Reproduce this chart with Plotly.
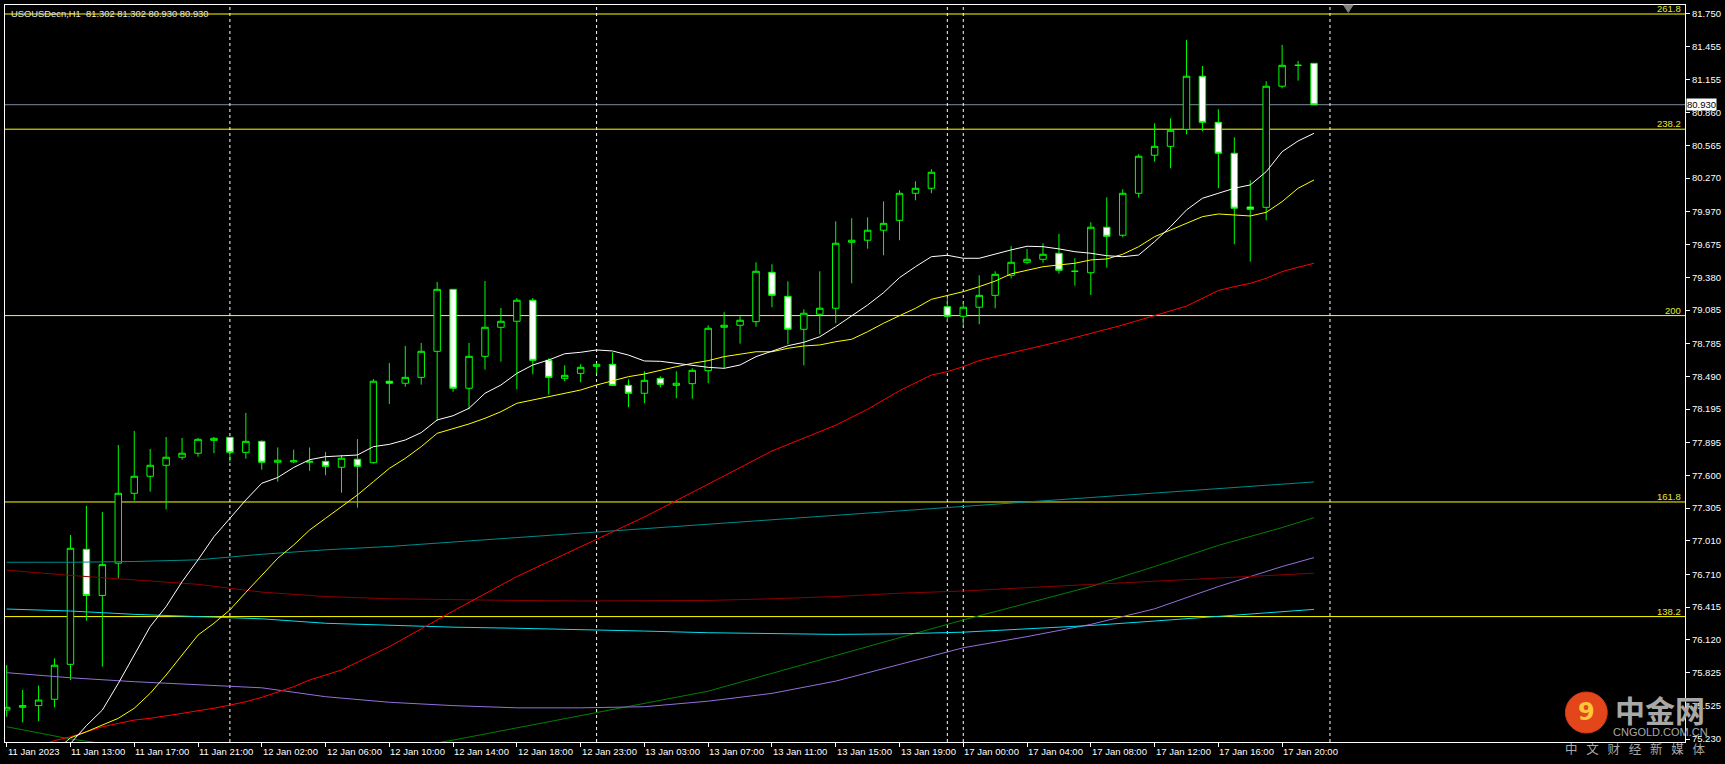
import plotly.graph_objects as go

# ---------------- data ----------------
opens = [75.49, 75.515, 75.53, 75.587, 75.901, 76.935, 76.52, 76.81, 77.438, 77.591,
         77.69, 77.762, 77.798, 77.914, 77.941, 77.806, 77.905, 77.717, 77.72, 77.717,
         77.725, 77.672, 77.744, 77.713, 78.445, 78.427, 78.48, 78.714, 79.271, 78.382,
         78.669, 78.93, 78.984, 79.173, 78.633, 78.471, 78.516, 78.579, 78.597, 78.408,
         78.337, 78.471, 78.408, 78.423, 78.54, 78.93, 78.948, 78.98, 79.424, 79.208,
         78.912, 79.047, 79.101, 79.694, 79.712, 79.802, 79.891, 80.134, 80.179, 79.115,
         79.029, 79.11, 79.217, 79.397, 79.514, 79.541, 79.595, 79.433, 79.42, 79.829,
         79.757, 80.134, 80.476, 80.556, 80.709, 81.186, 80.772, 80.494, 80.011, 80.008,
         81.096, 81.284, 81.302]
highs = [75.895, 75.67, 75.71, 75.955, 77.063, 77.325, 77.27, 77.872, 77.998, 77.836,
         77.944, 77.935, 77.935, 77.944, 77.941, 78.16, 77.914, 77.85, 77.83, 77.85,
         77.81, 77.782, 77.926, 78.465, 78.609, 78.762, 78.789, 79.337, 79.271, 78.789,
         79.346, 79.103, 79.193, 79.193, 78.651, 78.588, 78.597, 78.606, 78.705, 78.462,
         78.534, 78.489, 78.534, 78.561, 78.948, 79.065, 79.029, 79.514, 79.496, 79.343,
         79.092, 79.433, 79.882, 79.91, 79.918, 80.062, 80.161, 80.242, 80.35, 79.2,
         79.155, 79.397, 79.433, 79.66, 79.634, 79.685, 79.769, 79.55, 79.874, 80.098,
         80.17, 80.485, 80.763, 80.808, 81.512, 81.278, 80.889, 80.637, 80.251, 81.141,
         81.467, 81.323, 81.302]
lows = [75.43, 75.38, 75.39, 75.515, 75.76, 76.293, 75.88, 76.674, 77.372, 77.453,
        77.294, 77.74, 77.767, 77.798, 77.722, 77.749, 77.65, 77.542, 77.71, 77.64,
        77.6, 77.443, 77.309, 77.704, 78.24, 78.396, 78.414, 78.09, 78.35, 78.193,
        78.549, 78.621, 78.373, 78.508, 78.324, 78.445, 78.436, 78.516, 78.408, 78.211,
        78.247, 78.39, 78.292, 78.288, 78.427, 78.564, 78.783, 78.935, 79.11, 78.777,
        78.588, 78.867, 78.966, 79.325, 79.636, 79.577, 79.712, 80.071, 80.134, 78.977,
        78.944, 78.957, 79.1, 79.37, 79.496, 79.51, 79.412, 79.304, 79.22, 79.466,
        79.739, 80.095, 80.418, 80.359, 80.664, 80.691, 80.179, 79.676, 79.52, 79.891,
        81.078, 81.146, 80.93]
closes = [75.515, 75.53, 75.58, 75.893, 76.944, 76.52, 76.797, 77.438, 77.591, 77.69,
          77.762, 77.798, 77.923, 77.932, 77.806, 77.905, 77.717, 77.735, 77.73, 77.725,
          77.68, 77.753, 77.681, 78.445, 78.427, 78.48, 78.714, 79.271, 78.382, 78.669,
          78.93, 78.984, 79.173, 78.633, 78.48, 78.498, 78.57, 78.597, 78.408, 78.337,
          78.453, 78.417, 78.427, 78.543, 78.921, 78.948, 78.993, 79.433, 79.217, 78.912,
          79.056, 79.101, 79.685, 79.712, 79.802, 79.864, 80.134, 80.179, 80.323, 79.029,
          79.11, 79.217, 79.406, 79.514, 79.541, 79.586, 79.442, 79.433, 79.829, 79.748,
          80.134, 80.467, 80.556, 80.7, 81.186, 80.772, 80.494, 80.0, 79.99, 81.096,
          81.284, 81.284, 80.93]

# fast moving averages, one value per bar starting at *_start
white_start = 3
white_ma = [74.95, 75.19, 75.35, 75.49, 75.73, 75.985, 76.24, 76.42, 76.643, 76.84,
            77.048, 77.213, 77.378, 77.528, 77.58, 77.67, 77.74, 77.767, 77.775, 77.782,
            77.857, 77.878, 77.917, 77.983, 78.097, 78.135, 78.202, 78.337, 78.411, 78.516,
            78.591, 78.636, 78.692, 78.705, 78.726, 78.717, 78.68, 78.627, 78.624, 78.606,
            78.582, 78.57, 78.561, 78.591, 78.666, 78.717, 78.764, 78.795, 78.845, 78.935,
            79.034, 79.13, 79.241, 79.376, 79.474, 79.564, 79.577, 79.55, 79.55, 79.589,
            79.625, 79.658, 79.654, 79.634, 79.609, 79.595, 79.573, 79.564, 79.579, 79.699,
            79.834, 79.984, 80.089, 80.134, 80.179, 80.209, 80.328, 80.508, 80.604, 80.673]
yellow_start = 3
yellow_ma = [75.12, 75.24, 75.295, 75.356, 75.416, 75.506, 75.64, 75.805, 75.985, 76.164,
             76.27, 76.39, 76.548, 76.704, 76.854, 76.973, 77.108, 77.213, 77.318, 77.423,
             77.542, 77.662, 77.752, 77.857, 77.977, 78.016, 78.061, 78.112, 78.171, 78.247,
             78.276, 78.306, 78.337, 78.366, 78.411, 78.45, 78.486, 78.51, 78.546, 78.576,
             78.606, 78.63, 78.666, 78.69, 78.71, 78.71, 78.741, 78.762, 78.771, 78.8,
             78.822, 78.89, 78.966, 79.034, 79.1, 79.181, 79.214, 79.25, 79.295, 79.345,
             79.41, 79.445, 79.474, 79.49, 79.505, 79.535, 79.544, 79.586, 79.654, 79.744,
             79.804, 79.858, 79.924, 79.948, 79.939, 79.93, 79.963, 80.059, 80.179, 80.254]

# slower moving averages, sampled at these bars
red_bars = [2, 3, 4, 5, 6, 7, 8, 9, 10, 11, 12, 13, 14, 15, 16, 17, 18, 19, 20, 21,
            24, 28, 32, 36, 40, 44, 48, 52, 54, 56, 58, 59, 60, 61, 62, 66, 70, 74,
            76, 77, 78, 79, 80, 81, 82]
red_ma = [75.17, 75.215, 75.25, 75.295, 75.34, 75.37, 75.4, 75.416, 75.436, 75.46,
          75.484, 75.506, 75.535, 75.565, 75.604, 75.655, 75.7, 75.76, 75.805, 75.85,
          76.06, 76.38, 76.69, 76.96, 77.225, 77.52, 77.818, 78.05, 78.193, 78.36,
          78.501, 78.531, 78.576, 78.63, 78.666, 78.8, 78.95, 79.12, 79.26, 79.295,
          79.325, 79.37, 79.43, 79.469, 79.505]

slow_bars = [0, 4, 8, 12, 16, 20, 24, 28, 32, 36, 40, 44, 48, 52, 56, 60, 64, 68, 72, 76, 80, 82]
teal_ma = [76.818, 76.818, 76.825, 76.84, 76.89, 76.93, 76.96, 77.0, 77.04, 77.08, 77.12,
           77.16, 77.2, 77.24, 77.28, 77.32, 77.36, 77.4, 77.44, 77.48, 77.52, 77.54]
maroon_ma = [76.747, 76.70, 76.66, 76.62, 76.55, 76.51, 76.49, 76.48, 76.475, 76.47, 76.47,
             76.475, 76.49, 76.51, 76.54, 76.56, 76.59, 76.62, 76.65, 76.68, 76.71, 76.72]
cyan_ma = [76.398, 76.38, 76.35, 76.33, 76.31, 76.27, 76.25, 76.235, 76.225, 76.215, 76.2,
           76.185, 76.175, 76.17, 76.175, 76.19, 76.22, 76.25, 76.29, 76.33, 76.375, 76.395]
purple_ma = [75.826, 75.78, 75.745, 75.72, 75.69, 75.61, 75.56, 75.53, 75.51, 75.51, 75.52,
             75.57, 75.64, 75.75, 75.9, 76.05, 76.15, 76.26, 76.4, 76.6, 76.78, 76.86]
green_ma = [75.34, 75.23, 75.15, 75.08, 75.04, 75.04, 75.12, 75.22, 75.33, 75.44, 75.55,
            75.66, 75.82, 75.98, 76.14, 76.3, 76.45, 76.6, 76.78, 76.97, 77.13, 77.22]

fib_names = ["261.8", "238.2", "200", "161.8", "138.2"]
fib_prices = [81.745, 80.71, 79.035, 77.36, 76.33]
last_price = 80.930
separator_bars = [14, 37, 59, 60, 83]

tick_bars = list(range(0, 81, 4))
tick_labels = ["11 Jan 2023", "11 Jan 13:00", "11 Jan 17:00", "11 Jan 21:00", "12 Jan 02:00",
               "12 Jan 06:00", "12 Jan 10:00", "12 Jan 14:00", "12 Jan 18:00", "12 Jan 23:00",
               "13 Jan 03:00", "13 Jan 07:00", "13 Jan 11:00", "13 Jan 15:00", "13 Jan 19:00",
               "17 Jan 00:00", "17 Jan 04:00", "17 Jan 08:00", "17 Jan 12:00", "17 Jan 16:00",
               "17 Jan 20:00"]
price_ticks = [81.750, 81.455, 81.155, 80.860, 80.565, 80.270, 79.970, 79.675, 79.380, 79.085,
               78.785, 78.490, 78.195, 77.895, 77.600, 77.305, 77.010, 76.710, 76.415, 76.120,
               75.825, 75.525, 75.230]
price_tick_text = ["%.3f" % v for v in price_ticks]
title_text = "USOUSDecn,H1  81.302 81.302 80.930 80.930"

# ---------------- figure ----------------
FONT = "Liberation Sans"
FS = 9.5
bars = list(range(len(opens)))
fig = go.Figure()


def add_line(xs, ys, color):
    fig.add_trace(go.Scatter(x=xs, y=ys, mode="lines", line=dict(color=color, width=1),
                             hoverinfo="skip", showlegend=False))


add_line(slow_bars, green_ma, "#008000")
add_line(slow_bars, purple_ma, "#9370DB")
add_line(slow_bars, cyan_ma, "#00E0F0")
add_line(slow_bars, maroon_ma, "#8B0000")
add_line(slow_bars, teal_ma, "#008B8B")
add_line(red_bars, red_ma, "#FF0000")
add_line(list(range(yellow_start, yellow_start + len(yellow_ma))), yellow_ma, "#FFFF00")
add_line(list(range(white_start, white_start + len(white_ma))), white_ma, "#FFFFFF")

fig.add_trace(go.Candlestick(
    x=bars, open=opens, high=highs, low=lows, close=closes,
    increasing=dict(line=dict(color="#00FF00", width=1), fillcolor="#000000"),
    decreasing=dict(line=dict(color="#00FF00", width=1), fillcolor="#FFFFFF"),
    whiskerwidth=0, showlegend=False, hoverinfo="skip"))

shapes = []
for p in fib_prices:
    shapes.append(dict(type="line", xref="paper", x0=0, x1=1, yref="y", y0=p, y1=p,
                       line=dict(color="#FFFF00", width=1), layer="below"))
shapes.append(dict(type="line", xref="paper", x0=0, x1=1, yref="y", y0=last_price, y1=last_price,
                   line=dict(color="#7A8CA0", width=1), layer="below"))
for b in separator_bars:
    shapes.append(dict(type="line", xref="x", x0=b, x1=b, yref="paper", y0=0, y1=1,
                       line=dict(color="#FFFFFF", width=1, dash="3px,3px"), layer="below"))
# chart-shift marker
shapes.append(dict(type="path", xref="x", yref="paper",
                   path="M 83.85 1 L 84.45 1 L 84.15 0.99 Z",
                   fillcolor="#808080", line=dict(color="#808080", width=1)))

X0 = 4.0
PW = 1686.0
PB = 742.0
PH = 737.0


def px(xp):
    return (xp - X0) / PW


def py(yp):
    return (PB - yp) / PH


# logo
shapes.append(dict(type="circle", xref="paper", yref="paper",
                   x0=px(1570), x1=px(1612), y0=py(733), y1=py(692),
                   fillcolor="#E4461C", line=dict(color="#D63A14", width=1)))

annotations = []
for b, t in zip(tick_bars, tick_labels):
    annotations.append(dict(x=b, y=0, xref="x", yref="paper", text=t, showarrow=False,
                            xanchor="left", yanchor="top", xshift=-1, yshift=-2,
                            font=dict(family=FONT, size=FS, color="#FFFFFF")))
for n, p in zip(fib_names, fib_prices):
    annotations.append(dict(x=1, y=p, xref="paper", yref="y", text=n, showarrow=False,
                            xanchor="right", yanchor="bottom", xshift=-2, yshift=-2,
                            font=dict(family=FONT, size=FS, color="#E8E830")))
annotations.append(dict(x=1, y=last_price, xref="paper", yref="y", text="%.3f" % last_price,
                        showarrow=False, xanchor="left", yanchor="middle", xshift=1,
                        bgcolor="#FFFFFF", borderpad=0,
                        font=dict(family=FONT, size=FS, color="#000000")))
annotations.append(dict(x=0, y=1, xref="paper", yref="paper", text=title_text, showarrow=False,
                        xanchor="left", yanchor="top", xshift=4, yshift=-1,
                        font=dict(family=FONT, size=9.4, color="#E8E8E8")))
annotations.append(dict(x=px(1591), y=py(712), xref="paper", yref="paper", text="<b>9</b>",
                        showarrow=False, xanchor="center", yanchor="middle",
                        font=dict(family="DejaVu Sans", size=24, color="#FFC63A")))
annotations.append(dict(x=px(1665), y=py(709), xref="paper", yref="paper", text="<b>中金网</b>",
                        showarrow=False, xanchor="center", yanchor="middle",
                        font=dict(family="Noto Sans CJK SC", size=30, color="#A8A8A8")))
annotations.append(dict(x=px(1665), y=py(732), xref="paper", yref="paper", text="CNGOLD.COM.CN",
                        showarrow=False, xanchor="center", yanchor="middle",
                        font=dict(family=FONT, size=11, color="#A8A8A8")))
annotations.append(dict(x=px(1640), y=py(748), xref="paper", yref="paper",
                        text="中\u2002\u2009文\u2002\u2009财\u2002\u2009经\u2002\u2009新\u2002\u2009媒\u2002\u2009体",
                        showarrow=False, xanchor="center", yanchor="middle",
                        font=dict(family="Noto Sans CJK SC", size=12.5, color="#A8A8A8")))

left = -(5.7 - 4.0) / 16.0
fig.update_layout(
    width=1725, height=764,
    margin=dict(l=4, r=35, t=5, b=22),
    paper_bgcolor="#000000", plot_bgcolor="#000000",
    showlegend=False, boxgap=0.42,
    shapes=shapes, annotations=annotations,
    xaxis=dict(range=[left, left + PW / 16.0], showgrid=False, zeroline=False,
               showline=True, linecolor="#FFFFFF", linewidth=1, mirror=True,
               tickvals=tick_bars, ticks="outside", ticklen=4, tickcolor="#FFFFFF",
               showticklabels=False, rangeslider=dict(visible=False), fixedrange=True),
    yaxis=dict(range=[75.203, 81.826], side="right", showgrid=False, zeroline=False,
               showline=True, linecolor="#FFFFFF", linewidth=1, mirror=True,
               tickvals=price_ticks, ticktext=price_tick_text, ticks="outside",
               ticklen=4, tickcolor="#FFFFFF",
               tickfont=dict(family=FONT, size=FS, color="#FFFFFF"), fixedrange=True),
)

fig.write_html("out.html", config={"displayModeBar": False},
               post_script="document.body.style.margin='0px';")
